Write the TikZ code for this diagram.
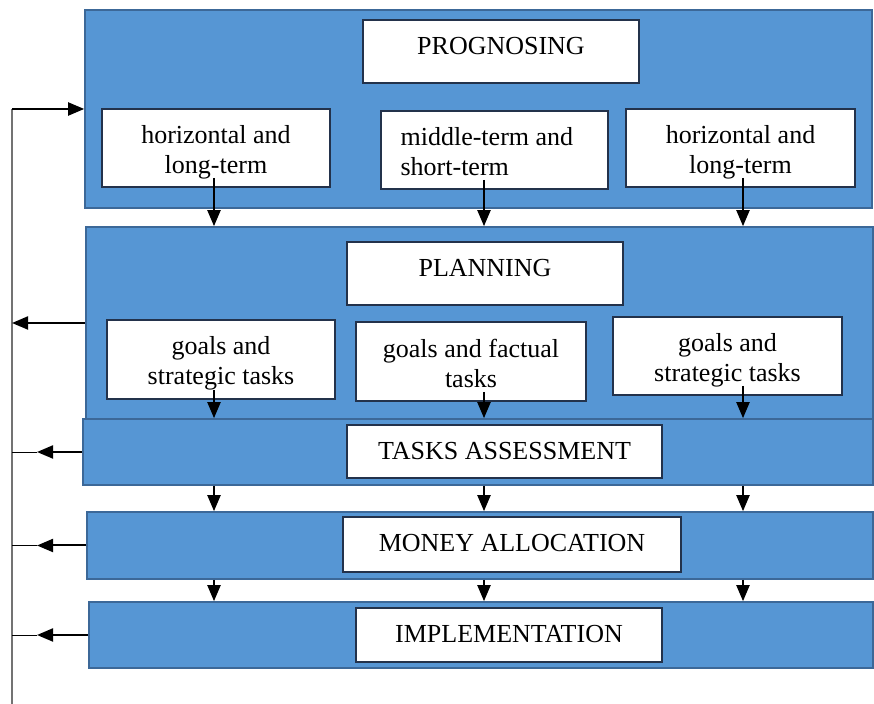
\documentclass[tikz,border=0pt]{standalone}
\usepackage{fontspec}
\setmainfont{Liberation Serif}
\usetikzlibrary{arrows.meta, positioning, calc}

\definecolor{panelblue}{RGB}{86,150,212}
\definecolor{paneledge}{RGB}{60,104,152}
\definecolor{boxedge}{RGB}{35,50,75}
\definecolor{spinegray}{RGB}{115,115,115}

\tikzset{
  panel/.style={draw=paneledge, fill=panelblue, line width=0.8pt, inner sep=0pt},
  wbox/.style={draw=boxedge, fill=white, line width=0.8pt, inner sep=0pt},
  lbl/.style={inner sep=0pt, align=center, font=\fontsize{13}{15}\selectfont},
  arr/.style={black, line width=1pt, -{Triangle[length=8pt,width=6.5pt]}},
}

\begin{document}
\begin{tikzpicture}[x=0.5pt, y=-0.5pt]
  \useasboundingbox (0,0) rectangle (874,704);

  % --- stages ---
  \node[panel, minimum width=393.5pt, minimum height=99pt] (progp) at (478.5,109) {};
  \node[panel, minimum width=393.5pt, minimum height=96pt] (planp) at (479.5,323) {};
  \node[panel, minimum width=395pt, minimum height=33pt] (tap) at (478,452) {};
  \node[panel, minimum width=393pt, minimum height=33.5pt] (map) at (480,545.5) {};
  \node[panel, minimum width=392pt, minimum height=33pt] (imp) at (481,635) {};

  % --- white boxes ---
  \node[wbox, minimum width=138pt, minimum height=31.5pt] (prog) at (501,51.5) {};
  \node[wbox, minimum width=114pt, minimum height=39pt] (hl1) at (216,148) {};
  \node[wbox, minimum width=113.5pt, minimum height=39pt] (mt) at (494.5,150) {};
  \node[wbox, minimum width=114.5pt, minimum height=39pt] (hl2) at (740.5,148) {};

  \node[wbox, minimum width=138pt, minimum height=31.5pt] (plan) at (485,273.5) {};
  \node[wbox, minimum width=114pt, minimum height=39.5pt] (gs1) at (221,359.5) {};
  \node[wbox, minimum width=115pt, minimum height=39.5pt] (gf) at (471,361.5) {};
  \node[wbox, minimum width=114.5pt, minimum height=39pt] (gs2) at (727.5,356) {};

  \node[wbox, minimum width=157.5pt, minimum height=26.5pt] (ta) at (504.5,451.5) {};
  \node[wbox, minimum width=169pt, minimum height=27.5pt] (ma) at (512,544.5) {};
  \node[wbox, minimum width=153pt, minimum height=27pt] (im) at (509,635) {};

  % --- texts, top aligned in the boxes ---
  \node[lbl, anchor=north] (progt) at ([yshift=-8.6pt]prog.north) {PROGNOSING};
  \node[lbl, anchor=north] (hl1t) at ([yshift=-8.6pt]hl1.north) {horizontal and\\long-term};
  \node[lbl, anchor=north west, align=left] (mtt) at ([xshift=10pt,yshift=-8.6pt]mt.north west) {middle-term and\\short-term};
  \node[lbl, anchor=north] (hl2t) at ([yshift=-8.6pt]hl2.north) {horizontal and\\long-term};

  \node[lbl, anchor=north] (plant) at ([yshift=-8.6pt]plan.north) {PLANNING};
  \node[lbl, anchor=north] (gs1t) at ([yshift=-8.6pt]gs1.north) {goals and\\strategic tasks};
  \node[lbl, anchor=north] (gft) at ([yshift=-8.6pt]gf.north) {goals and factual\\tasks};
  \node[lbl, anchor=north] (gs2t) at ([yshift=-8.6pt]gs2.north) {goals and\\strategic tasks};

  \node[lbl, anchor=north] (tat) at ([yshift=-8.6pt]ta.north) {TASKS ASSESSMENT};
  \node[lbl, anchor=north] (mat) at ([yshift=-8.6pt]ma.north) {MONEY ALLOCATION};
  \node[lbl, anchor=north] (imt) at ([yshift=-8.6pt]im.north) {IMPLEMENTATION};

  % --- columns and feedback line ---
  \coordinate (c1) at (214,0);
  \coordinate (c2) at (484,0);
  \coordinate (c3) at (743,0);
  \coordinate (spine) at (12,0);
  \coordinate (stub) at (37,0);
  \coordinate (spinebot) at (12,704);

  \draw[spinegray, line width=1pt] (spine |- progp.west) -- (spinebot);

  % downward flow
  \foreach \c/\b in {c1/hl1, c2/mt, c3/hl2}
    \draw[arr] ([yshift=5pt]\c |- \b.south) -- (\c |- planp.north);
  \foreach \c/\b in {c1/gs1, c2/gf, c3/gs2}
    \draw[arr] ([yshift=5pt]\c |- \b.south) -- (\c |- tap.north);
  \foreach \c in {c1, c2, c3} {
    \draw[arr] (\c |- tap.south) -- (\c |- map.north);
    \draw[arr] (\c |- map.south) -- (\c |- imp.north);
  }

  % feedback
  \draw[arr] (spine |- progp.west) -- (progp.west);
  \draw[arr] (planp.west) -- (spine |- planp.west);
  \foreach \p in {tap, map, imp} {
    \draw[arr] (\p.west) -- (stub |- \p.west);
    \draw[thin] (stub |- \p.west) -- (spine |- \p.west);
  }

\end{tikzpicture}
\end{document}
